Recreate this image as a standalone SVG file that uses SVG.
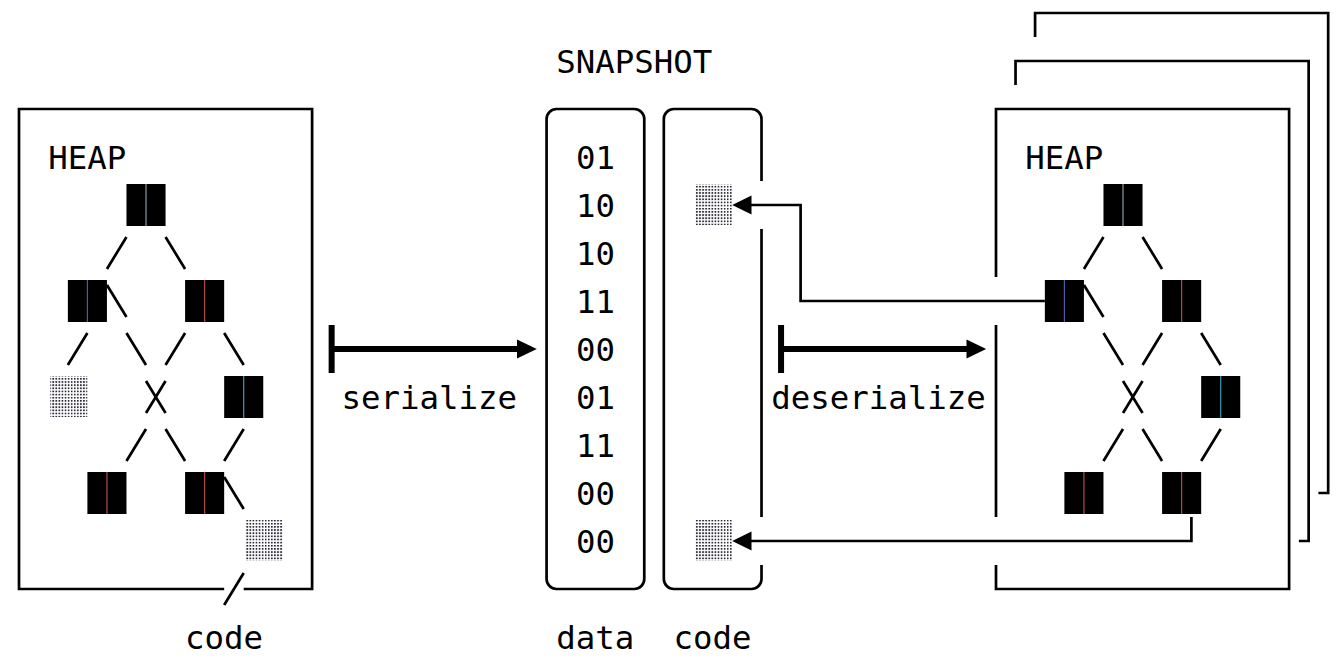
<svg xmlns="http://www.w3.org/2000/svg" width="1340" height="659" viewBox="0 0 1340 659">
<style>
.ln{fill:none;stroke:#000;stroke-width:2.7;stroke-linecap:butt;stroke-linejoin:miter}
.th{fill:none;stroke:#000;stroke-width:6}
.tx{font-family:"DejaVu Sans Mono","Liberation Mono",monospace;font-size:32.4px;fill:#000}
.blk{fill:#000}
.sep{stroke:#8a9aa8;stroke-width:1.2}
.dot{fill:url(#dots)}
.hd{fill:#000}
</style>
<defs>
<pattern id="dots" patternUnits="userSpaceOnUse" width="3.08" height="3.15" x="0" y="0">
<rect x="0" y="0" width="1.7" height="1.7" fill="#2b2b38"/>
</pattern>
</defs>
<rect width="1340" height="659" fill="#fff"/>

<g id="heap-left">
<path class="ln" d="M224.17,589 H19 V109 H312.1 V589 H243.71"/>
<path class="ln" d="M224.17,605 L243.71,573"/>
<text class="tx" x="48.31" y="168.5">HEAP</text>
</g>
<g id="left-tree-links">
<path class="ln" d="M106.93,269 L126.47,237 M165.55,237 L185.09,269"/>
<path class="ln" d="M106.93,285 L126.47,317"/>
<path class="ln" d="M67.85,365 L87.39,333 M126.47,333 L146.01,365 M165.55,365 L185.09,333 M224.17,333 L243.71,365"/>
<path class="ln" d="M146.01,381 L165.55,413 M146.01,413 L165.55,381"/>
<path class="ln" d="M126.47,461 L146.01,429 M165.55,429 L185.09,461 M224.17,461 L243.71,429"/>
<path class="ln" d="M224.17,477 L243.71,509"/>
</g>
<g id="left-node-root"><rect class="blk" x="126.47" y="184" width="39.08" height="42"/><line class="sep" x1="146.01" y1="184" x2="146.01" y2="226"/></g>
<g id="left-node-l"><rect class="blk" x="67.85" y="280" width="39.08" height="42"/><line class="sep" x1="87.39" y1="280" x2="87.39" y2="322" style="stroke:#4a5fb0"/></g>
<g id="left-node-r"><rect class="blk" x="185.09" y="280" width="39.08" height="42"/><line class="sep" x1="204.63" y1="280" x2="204.63" y2="322" style="stroke:#b04a4a"/></g>
<g id="left-code-1"><rect class="dot" x="50.3" y="376" width="37" height="41"/></g>
<g id="left-node-rr"><rect class="blk" x="224.17" y="376" width="39.08" height="42"/><line class="sep" x1="243.71" y1="376" x2="243.71" y2="418" style="stroke:#3a9ab0"/></g>
<g id="left-node-b1"><rect class="blk" x="87.39" y="472" width="39.08" height="42"/><line class="sep" x1="106.93" y1="472" x2="106.93" y2="514" style="stroke:#b04a4a"/></g>
<g id="left-node-b2"><rect class="blk" x="185.09" y="472" width="39.08" height="42"/><line class="sep" x1="204.63" y1="472" x2="204.63" y2="514" style="stroke:#b04a4a"/></g>
<g id="left-code-2"><rect class="dot" x="245.7" y="520" width="37" height="41"/></g>
<g id="left-code-label"><text class="tx" x="185.09" y="648.5">code</text></g>

<g id="snapshot-title"><text class="tx" x="556.35" y="72.5">SNAPSHOT</text></g>
<g id="snapshot-data">
<rect class="ln" x="546.58" y="109" width="97.7" height="480" rx="10" ry="10"/>
<text class="tx" x="575.89" y="168.5">01</text>
<text class="tx" x="575.89" y="216.5">10</text>
<text class="tx" x="575.89" y="264.5">10</text>
<text class="tx" x="575.89" y="312.5">11</text>
<text class="tx" x="575.89" y="360.5">00</text>
<text class="tx" x="575.89" y="408.5">01</text>
<text class="tx" x="575.89" y="456.5">11</text>
<text class="tx" x="575.89" y="504.5">00</text>
<text class="tx" x="575.89" y="552.5">00</text>
<text class="tx" x="556.35" y="648.5">data</text>
</g>
<g id="snapshot-code">
<path class="ln" d="M761.52,181 V119 A10,10 0 0 0 751.52,109 H673.82 A10,10 0 0 0 663.82,119 V579 A10,10 0 0 0 673.82,589 H751.52 A10,10 0 0 0 761.52,579 V565 M761.52,229 V517"/>
<rect class="dot" x="695.1" y="184" width="37" height="41"/>
<rect class="dot" x="695.1" y="520" width="37" height="41"/>
<text class="tx" x="673.59" y="648.5">code</text>
</g>

<g id="heap-right">
<path class="ln" d="M1035.08,37 V13 H1328.18 V493 H1318.41"/>
<path class="ln" d="M1015.54,85 V61 H1308.64 V541 H1298.87"/>
<path class="ln" d="M996,277 V109 H1289.1 V589 H996 V565 M996,325 V517"/>
<text class="tx" x="1025.31" y="168.5">HEAP</text>
</g>
<g id="right-tree-links">
<path class="ln" d="M1083.93,269 L1103.47,237 M1142.55,237 L1162.09,269"/>
<path class="ln" d="M1083.93,285 L1103.47,317"/>
<path class="ln" d="M1103.47,333 L1123.01,365 M1142.55,365 L1162.09,333 M1201.17,333 L1220.71,365"/>
<path class="ln" d="M1123.01,381 L1142.55,413 M1123.01,413 L1142.55,381"/>
<path class="ln" d="M1103.47,461 L1123.01,429 M1142.55,429 L1162.09,461 M1201.17,461 L1220.71,429"/>
</g>
<g id="right-node-root"><rect class="blk" x="1103.47" y="184" width="39.08" height="42"/><line class="sep" x1="1123.01" y1="184" x2="1123.01" y2="226"/></g>
<g id="right-node-l"><rect class="blk" x="1044.85" y="280" width="39.08" height="42"/><line class="sep" x1="1064.39" y1="280" x2="1064.39" y2="322" style="stroke:#4a5fb0"/></g>
<g id="right-node-r"><rect class="blk" x="1162.09" y="280" width="39.08" height="42"/><line class="sep" x1="1181.63" y1="280" x2="1181.63" y2="322" style="stroke:#b04a4a"/></g>
<g id="right-node-rr"><rect class="blk" x="1201.17" y="376" width="39.08" height="42"/><line class="sep" x1="1220.71" y1="376" x2="1220.71" y2="418" style="stroke:#3a9ab0"/></g>
<g id="right-node-b1"><rect class="blk" x="1064.39" y="472" width="39.08" height="42"/><line class="sep" x1="1083.93" y1="472" x2="1083.93" y2="514" style="stroke:#b04a4a"/></g>
<g id="right-node-b2"><rect class="blk" x="1162.09" y="472" width="39.08" height="42"/><line class="sep" x1="1181.63" y1="472" x2="1181.63" y2="514" style="stroke:#b04a4a"/></g>

<g id="connectors">
<path class="th" d="M331.64,325 V373 M331.64,349 H519"/>
<polygon class="hd" points="536.8,349 517,339.5 517,358.5"/>
<text class="tx" x="341.41" y="408.5">serialize</text>
<path class="th" d="M781.06,325 V373 M781.06,349 H968"/>
<polygon class="hd" points="986.2,349 966.5,339.5 966.5,358.5"/>
<text class="tx" x="771.29" y="408.5">deserialize</text>
<path class="ln" d="M1044.85,301 H800.6 V205 H750"/>
<polygon class="hd" points="732.2,205 751.5,195.5 751.5,214.5"/>
<path class="ln" d="M1191.4,517 V541 H750"/>
<polygon class="hd" points="732.2,541 751.5,531.5 751.5,550.5"/>
</g>
</svg>
